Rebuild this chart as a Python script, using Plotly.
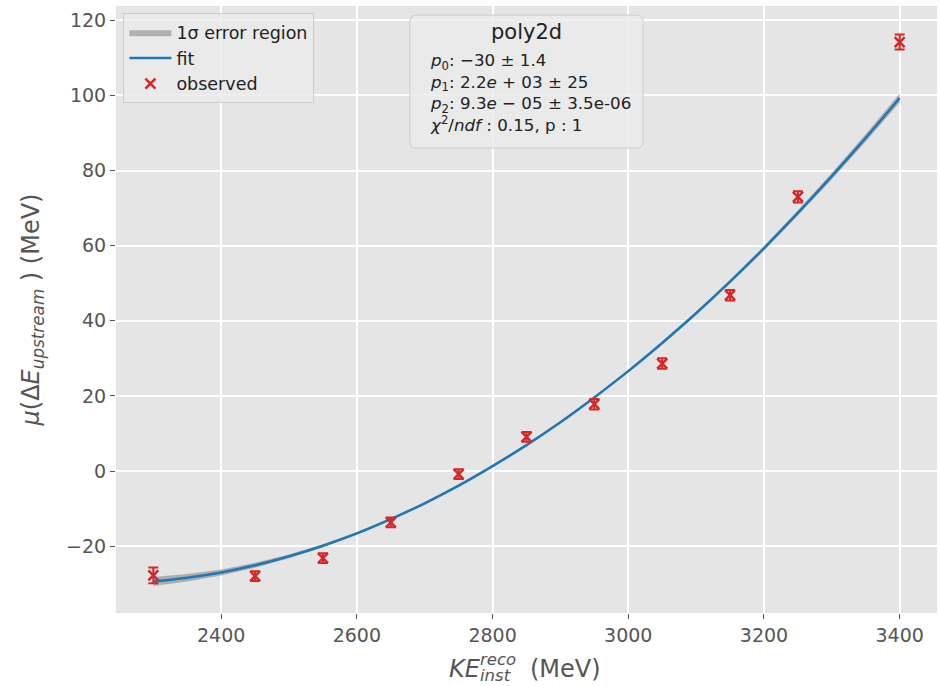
import plotly.graph_objects as go

# observed data
obs_x = [2300, 2450, 2550, 2650, 2750, 2850, 2950, 3050, 3150, 3250, 3400]
obs_y = [-27.8, -28.0, -23.2, -13.7, -0.8, 9.1, 17.8, 28.6, 46.8, 73.0, 114.2]
obs_err = [2.1, 1.3, 1.3, 1.3, 1.3, 1.3, 1.4, 1.4, 1.4, 1.5, 2.0]

# fit curve
fit_x = [2300, 2350, 2400, 2450, 2500, 2550, 2600, 2650, 2700, 2750, 2800, 2850,
         2900, 2950, 3000, 3050, 3100, 3150, 3200, 3250, 3300, 3350, 3400]
fit_y = [-29.4, -28.4, -27.0, -25.1, -22.7, -19.9, -16.6, -12.8, -8.6, -3.9, 1.3, 6.9,
         13.0, 19.6, 26.6, 34.1, 42.0, 50.4, 59.3, 68.7, 78.5, 88.7, 99.3]
band_half = [1.2, 1.0, 0.8, 0.65, 0.5, 0.4, 0.35, 0.3, 0.3, 0.3, 0.3, 0.3,
             0.3, 0.3, 0.3, 0.35, 0.4, 0.5, 0.6, 0.7, 0.85, 1.0, 1.2]

x_ticks = [2400, 2600, 2800, 3000, 3200, 3400]
y_ticks = [-20, 0, 20, 40, 60, 80, 100, 120]

band_lo = [y - h for y, h in zip(fit_y, band_half)]
band_hi = [y + h for y, h in zip(fit_y, band_half)]

FONT = "DejaVu Sans"
RED = "#d62728"
BLUE = "#1f77b4"
LABEL = "#555555"

fig = go.Figure()
fig.add_trace(go.Scatter(x=fit_x + fit_x[::-1], y=band_hi + band_lo[::-1], mode="lines",
                         line=dict(width=0), fill="toself",
                         fillcolor="rgba(128,128,128,0.55)", name="1σ error region",
                         hoverinfo="skip"))
fig.add_trace(go.Scatter(x=fit_x, y=fit_y, mode="lines",
                         line=dict(color=BLUE, width=2.5, shape="spline"), name="fit"))
fig.add_trace(go.Scatter(x=obs_x, y=obs_y, mode="markers", name="observed",
                         marker=dict(symbol="x-thin", size=10, color=RED,
                                     line=dict(color=RED, width=2.5)),
                         error_y=dict(type="data", array=obs_err, color=RED, thickness=2, width=5)))

# stats box
x0, x1, y0, y1, r = 0.358, 0.642, 0.766, 0.985, 0.008
ry = r * 821 / 607
path = (f"M {x0+r},{y0} L {x1-r},{y0} Q {x1},{y0} {x1},{y0+ry} L {x1},{y1-ry} "
        f"Q {x1},{y1} {x1-r},{y1} L {x0+r},{y1} Q {x0},{y1} {x0},{y1-ry} "
        f"L {x0},{y0+ry} Q {x0},{y0} {x0+r},{y0} Z")
fig.add_shape(type="path", xref="paper", yref="paper", path=path,
              fillcolor="rgba(235,235,235,0.85)", line=dict(color="#cccccc", width=1))
fig.add_annotation(xref="paper", yref="paper", x=0.5, y=0.957, text="poly2d",
                   showarrow=False, font=dict(family=FONT, size=21, color="#222222"),
                   xanchor="center", yanchor="middle")
body = ("<i>p</i><sub>0</sub>: −30 ± 1.4<br>"
        "<i>p</i><sub>1</sub>: 2.2<i>e</i> + 03 ± 25<br>"
        "<i>p</i><sub>2</sub>: 9.3<i>e</i> − 05 ± 3.5e-06<br>"
        "<i>χ</i><sup>2</sup>/<i>ndf</i> : 0.15, p : 1")
fig.add_annotation(xref="paper", yref="paper", x=0.38, y=0.93, text=body,
                   showarrow=False, align="left", xanchor="left", yanchor="top",
                   font=dict(family=FONT, size=16.7, color="#222222"))

# x-axis title with stacked super/subscript
fig.add_annotation(xref="paper", yref="paper", x=0.446, y=-0.093, text="<i>KE</i>",
                   showarrow=False, xanchor="right", yanchor="middle", borderpad=0,
                   font=dict(family=FONT, size=24, color=LABEL))
fig.add_annotation(xref="paper", yref="paper", x=0.442, y=-0.077, text="<i>reco</i>",
                   showarrow=False, xanchor="left", yanchor="middle", borderpad=0,
                   font=dict(family=FONT, size=16.5, color=LABEL))
fig.add_annotation(xref="paper", yref="paper", x=0.442, y=-0.103, text="<i>inst</i>",
                   showarrow=False, xanchor="left", yanchor="middle", borderpad=0,
                   font=dict(family=FONT, size=16.5, color=LABEL))
fig.add_annotation(xref="paper", yref="paper", x=0.503, y=-0.093, text="(MeV)",
                   showarrow=False, xanchor="left", yanchor="middle", borderpad=0,
                   font=dict(family=FONT, size=24, color=LABEL))

axis_common = dict(showgrid=True, gridcolor="white", gridwidth=1.5, zeroline=False,
                   showline=False, ticks="outside", ticklen=5, tickcolor=LABEL,
                   tickfont=dict(family=FONT, size=19, color=LABEL))

fig.update_layout(
    width=940, height=686,
    margin=dict(l=116, r=3, t=6, b=73),
    paper_bgcolor="white", plot_bgcolor="#E5E5E5",
    font=dict(family=FONT, color=LABEL),
    xaxis=dict(range=[2245, 3455], tickvals=x_ticks, ticktext=[str(v) for v in x_ticks],
               **axis_common),
    yaxis=dict(range=[-37.8, 123.8], tickvals=y_ticks,
               ticktext=["−20" if v < 0 else str(v) for v in y_ticks],
               title=dict(text="<i>μ</i>(Δ<i>E</i><sub><i>upstream</i></sub> ) (MeV)",
                          font=dict(family=FONT, size=24, color=LABEL), standoff=19),
               **axis_common),
    legend=dict(x=0.009, y=0.988, xanchor="left", yanchor="top", traceorder="normal",
                bgcolor="rgba(235,235,235,0.85)", bordercolor="#cccccc", borderwidth=1,
                itemwidth=42,
                font=dict(family=FONT, size=17.5, color="#222222"), tracegroupgap=0),
    showlegend=True,
)

fig.write_html("out.html")
